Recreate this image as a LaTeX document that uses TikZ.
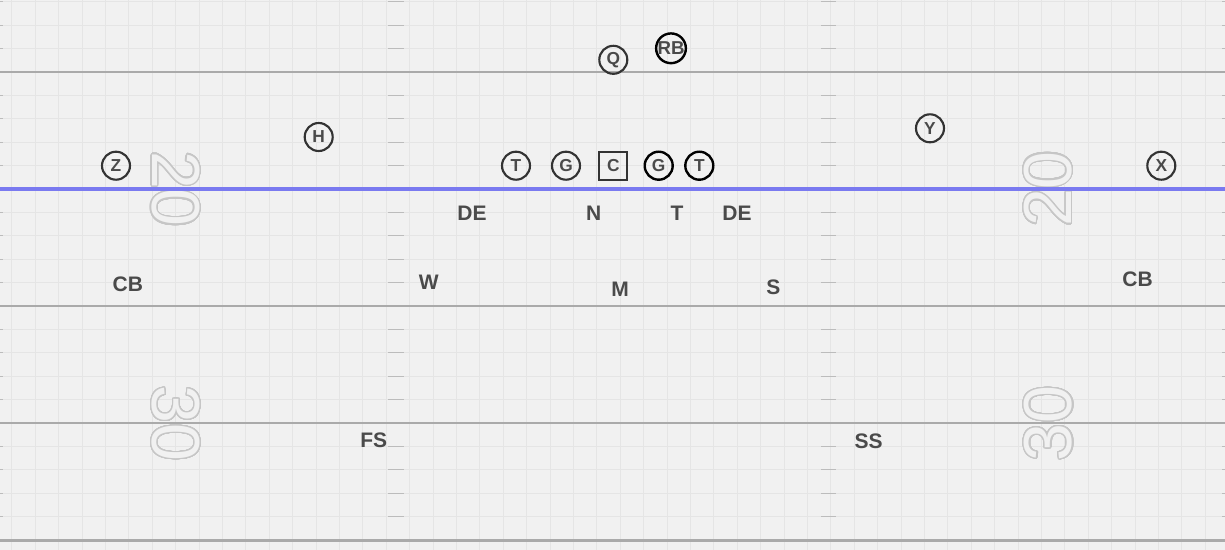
\documentclass[tikz,border=0pt]{standalone}
\usepackage{fontspec}
\setmainfont{Liberation Sans}
\usepackage{contour}
\contourlength{0.9pt}
\contournumber{40}

\definecolor{fieldbg}{RGB}{241,241,241}
\definecolor{gridln}{RGB}{229,229,229}
\definecolor{yardln}{RGB}{170,170,170}
\definecolor{hashln}{RGB}{188,188,188}
\definecolor{losln}{RGB}{122,122,240}
\definecolor{plyr}{RGB}{51,51,51}
\definecolor{lbl}{RGB}{74,74,74}
\definecolor{numln}{RGB}{198,198,198}

\tikzset{
  gridline/.style={gridln,line width=0.6pt},
  yardline/.style={yardln,line width=2pt},
  hashtick/.style={hashln,line width=0.8pt},
  offman/.style={circle,draw=plyr,line width=1.6pt,minimum size=21pt,inner sep=0pt,
    text=lbl,font=\fontsize{13}{13}\selectfont\bfseries},
  offdark/.style={offman,draw=black,line width=1.8pt},
  centre/.style={offman,rectangle,minimum size=21pt},
  defman/.style={inner sep=0pt,text=lbl,font=\fontsize{15.75}{16}\selectfont\bfseries},
  yardnum/.style={inner sep=0pt,font=\fontsize{51}{51}\selectfont}
}

\begin{document}
\begin{tikzpicture}[x=0.75pt,y=0.75pt,yscale=-1,xscale=1]
\useasboundingbox (0,0) rectangle (1225,550);
\fill[fieldbg] (0,0) rectangle (1225,550);

%Grid
\foreach \gx in {0,...,51} \draw[gridline] ({11.7+23.4*\gx},0) -- ++(0,550);
\foreach \gy in {0,...,23} \draw[gridline] (0,{1.8+23.4*\gy}) -- ++(1225,0);

%Hash marks
\foreach \k in {0,1,2,4,5,6,7,9,10,11,12,14,15,16,17,19,20,21,22} {
  \draw[hashtick] (0,{1.8+23.4*\k}) -- ++(3,0);
  \draw[hashtick] (388,{1.8+23.4*\k}) -- ++(16,0);
  \draw[hashtick] (821,{1.8+23.4*\k}) -- ++(15,0);
  \draw[hashtick] (1222,{1.8+23.4*\k}) -- ++(3,0);
}

%Yard Lines
\draw[yardline] (0,72) -- (1225,72);
\draw[yardline] (0,306) -- (1225,306);
\draw[yardline] (0,423) -- (1225,423);
\draw[yardline] (0,540.5) -- (1225,540.5);

% Yard Numbers
\node[yardnum,rotate=-90] (num20l) at (175,189) {\color{fieldbg}\contour{numln}{20}};
\node[yardnum,rotate=90] (num20r) at (1048.5,189) {\color{fieldbg}\contour{numln}{20}};
\node[yardnum,rotate=-90] (num30l) at (175.5,423.5) {\color{fieldbg}\contour{numln}{30}};
\node[yardnum,rotate=90] (num30r) at (1049,423.5) {\color{fieldbg}\contour{numln}{30}};

%Line of Scrimmage
\draw[losln,line width=2.3pt] (0,189) -- (1225,189);

% Offense
\node[offman] (zrec) at (116,165.7) {Z};
\node[offman] (hback) at (318.7,137) {H};
\node[offman] (ltk) at (516,165.7) {T};
\node[offman] (lgd) at (566,165.7) {G};
\node[centre] (ctr) at (613.3,165.7) {C};
\node[offdark] (rgd) at (658.7,165.7) {G};
\node[offdark] (rtk) at (699.3,165.7) {T};
\node[offman] (qb) at (613.3,59.8) {Q};
\node[offdark,font=\fontsize{14}{14}\selectfont\bfseries] (rb) at (671,48.3) {RB};
\node[offman] (yrec) at (930,128.3) {Y};
\node[offman] (xrec) at (1161.3,165.7) {X};

% Defense
\node[defman] (lde) at (472,213.3) {DE};
\node[defman] (nose) at (593.7,213.3) {N};
\node[defman] (dtk) at (677,213.3) {T};
\node[defman] (rde) at (737,213.3) {DE};
\node[defman] (wlb) at (428.8,282.3) {W};
\node[defman] (mlb) at (620,289.7) {M};
\node[defman] (slb) at (773.3,287) {S};
\node[defman] (lcb) at (127.8,284.7) {CB};
\node[defman] (rcb) at (1137.5,279) {CB};
\node[defman] (fsaf) at (373.8,440) {FS};
\node[defman] (ssaf) at (868.7,441.7) {SS};

\end{tikzpicture}
\end{document}
